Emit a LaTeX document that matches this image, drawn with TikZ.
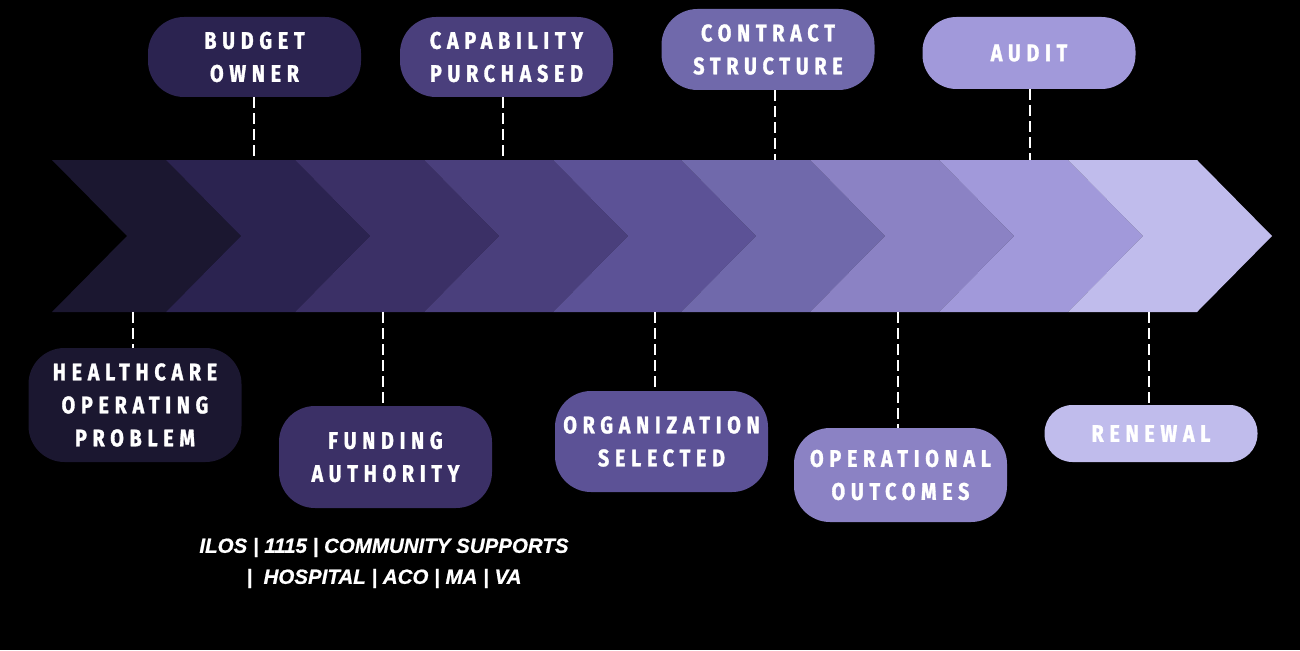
\documentclass[tikz,border=0pt]{standalone}
\usepackage{fontspec}
\newfontfamily\labfont[LetterSpace=24,FakeStretch=0.82,FakeBold=1.3]{Fira Sans}
\newfontfamily\notefont[FakeBold=0.8]{Liberation Sans}
\definecolor{cA}{HTML}{000000}
\definecolor{cB}{HTML}{1B1730}
\definecolor{cC}{HTML}{2B2350}
\definecolor{cD}{HTML}{3B3066}
\definecolor{cE}{HTML}{4A3F7C}
\definecolor{cF}{HTML}{5C5296}
\definecolor{cG}{HTML}{7069AB}
\definecolor{cH}{HTML}{8B82C4}
\definecolor{cI}{HTML}{A199DA}
\definecolor{cJ}{HTML}{C0BCEC}
\begin{document}
\begin{tikzpicture}[x=1pt,y=-1pt,
  box/.style={rounded corners=36pt, minimum width=213pt, inner sep=0pt, text=white, align=center,
    font=\labfont\bfseries\fontsize{24}{33}\selectfont},
  link/.style={draw=white, line width=2pt, dash pattern=on 11pt off 5pt},
  note/.style={text=white, align=center, inner sep=0pt, font=\notefont\bfseries\itshape\fontsize{20.5}{31}\selectfont}]
\fill[black] (0,0) rectangle (1300,650);
% chevron band
\fill[cA] (12,160) -- (52,160) -- (127,236) -- (52,312) -- (12,312) -- cycle;
\foreach \a/\b/\c in {52/166/cB,166/295/cC,295/424/cD,424/553/cE,553/681/cF,681/810/cG,810/939/cH,939/1068/cI,1068/1197/cJ}
  \fill[\c] (\a,160) -- (\b,160) -- (\b+75,236) -- (\b,312) -- (\a,312) -- (\a+75,236) -- cycle;
% top boxes
\node[box, fill=cC, minimum height=80pt] (budget) at (254.5,57) {BUDGET\\OWNER};
\node[box, fill=cE, minimum height=80pt] (capab) at (506.5,57) {CAPABILITY\\PURCHASED};
\node[box, fill=cG, minimum height=81pt] (contract) at (768,49.5) {CONTRACT\\STRUCTURE};
\node[box, fill=cI, minimum height=72pt, rounded corners=34pt] (audit) at (1029,53) {AUDIT};
% bottom boxes
\node[box, fill=cB, minimum height=114pt] (problem) at (135,405) {HEALTHCARE\\OPERATING\\PROBLEM};
\node[box, fill=cD, minimum height=102pt] (funding) at (385.5,457) {FUNDING\\AUTHORITY};
\node[box, fill=cF, minimum height=101pt] (org) at (661.5,441.5) {ORGANIZATION\\SELECTED};
\node[box, fill=cH, minimum height=94pt] (outcomes) at (900.5,475) {OPERATIONAL\\OUTCOMES};
\node[box, fill=cJ, minimum height=57pt, rounded corners=28pt] (renewal) at (1151,433.5) {RENEWAL};
% connector anchors on the band
\coordinate (tb) at (254,160);
\coordinate (tc) at (503,160);
\coordinate (tk) at (774.5,160);
\coordinate (ta) at (1030,160);
\coordinate (bp) at (133,312);
\coordinate (bf) at (382.5,312);
\coordinate (bo) at (654.5,312);
\coordinate (bu) at (898,312);
\coordinate (br) at (1148.5,312);
\draw[link] (budget.south -| tb) -- (tb);
\draw[link] (capab.south -| tc) -- (tc);
\draw[link] (contract.south -| tk) -- (tk);
\draw[link] (audit.south -| ta) -- (ta);
\draw[link] (bp) -- (bp |- problem.north);
\draw[link] (bf) -- (bf |- funding.north);
\draw[link] (bo) -- (bo |- org.north);
\draw[link] (bu) -- (bu |- outcomes.north);
\draw[link] (br) -- (br |- renewal.north);
% note
\node[note] (sources) at (384,563) {ILOS | 1115 | COMMUNITY SUPPORTS\\|~ HOSPITAL | ACO | MA | VA};
\end{tikzpicture}
\end{document}
